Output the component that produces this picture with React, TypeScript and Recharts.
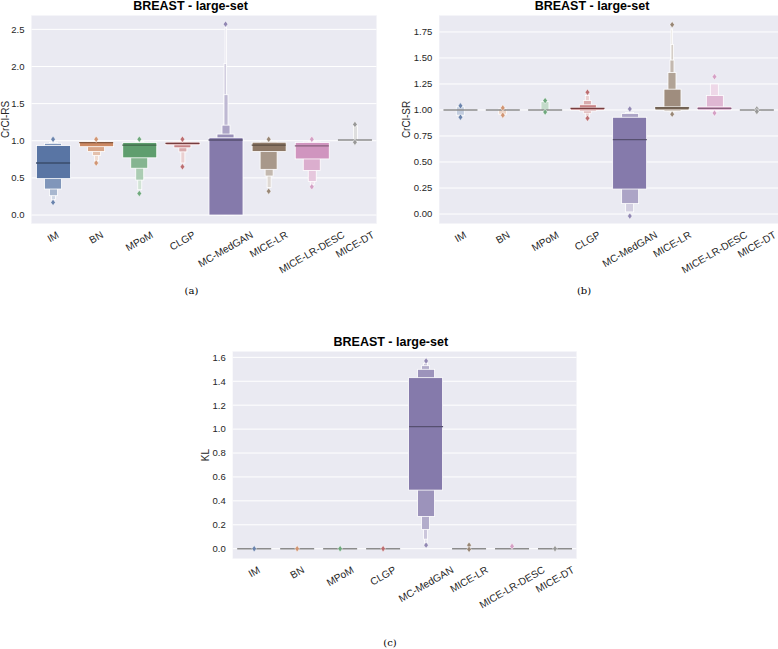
import React from "react";
import { ComposedChart, Bar, Scatter, XAxis, YAxis, CartesianGrid } from "recharts";

type Range = [number, number] | null;

const CATEGORIES = ["IM", "BN", "MPoM", "CLGP", "MC-MedGAN", "MICE-LR", "MICE-LR-DESC", "MICE-DT"];
const PALETTE = ["#5975a4", "#cc8963", "#5f9e6e", "#b55d60", "#857aab", "#8d7866", "#d095bf", "#8c8c8c"];

// ---- Panel (a): CrCl-RS ----
const rsBox: Range[] = [[0.49, 0.935], [0.92, 0.985], [0.77, 0.975], [0.945, 0.98], [0, 1.04], [0.855, 0.98], [0.755, 0.975], null];
const rsL1: Range[] = [[0.35, 0.965], [0.855, 0.99], [0.63, 0.98], [0.905, 0.985], [0, 1.09], [0.615, 0.99], [0.6, 0.985], null];
const rsL2: Range[] = [[0.26, 0.975], [0.8, 0.995], [0.47, 0.99], [0.85, 0.99], [0, 1.21], [0.525, 0.995], [0.45, 0.99], null];
const rsL3: Range[] = [[0.21, 0.985], [0.73, 1.0], [0.34, 0.995], [0.7, 0.995], [0, 1.62], [0.37, 1.0], [0.41, 0.995], [0.99, 1.2]];
const rsL4: Range[] = [null, null, null, null, [0, 2.04], null, null, null];
const rsL5: Range[] = [null, null, null, null, [0, 2.53], null, null, null];
const rsMedian = [0.7, 0.975, 0.94, 0.965, 1.01, 0.94, 0.93, 1.01];
const rsOutHi = [1.02, 1.02, 1.02, 1.02, 2.57, 1.02, 1.02, 1.22];
const rsOutLo: (number | null)[] = [0.17, 0.7, 0.29, 0.65, null, 0.32, 0.38, 0.98];
const rsTicks = [0, 0.5, 1.0, 1.5, 2.0, 2.5];

// ---- Panel (b): CrCl-SR ----
const srBox: Range[] = [null, null, null, [1.0, 1.02], [0.24, 0.93], [1.0, 1.03], [1.0, 1.03], null];
const srL1: Range[] = [null, null, null, [0.99, 1.05], [0.1, 0.965], [0.99, 1.2], [0.995, 1.14], null];
const srL2: Range[] = [[0.95, 1.03], [0.96, 1.01], [0.99, 1.08], [0.97, 1.09], [0.02, 0.975], [0.985, 1.36], [0.99, 1.25], [0.99, 1.005]];
const srL3: Range[] = [null, null, null, [0.94, 1.14], null, [0.98, 1.48], null, null];
const srL4: Range[] = [null, null, null, null, null, [0.975, 1.63], null, null];
const srL5: Range[] = [null, null, null, null, null, [0.97, 1.78], null, null];
const srMedian = [1.0, 1.0, 1.0, 1.015, 0.715, 1.02, 1.015, 1.0];
const srOutHi = [1.04, 1.02, 1.09, 1.17, 1.01, 1.82, 1.32, 1.01];
const srOutLo: (number | null)[] = [0.93, 0.95, 0.98, 0.92, -0.02, 0.96, 0.97, 0.985];
const srTicks = [0, 0.25, 0.5, 0.75, 1.0, 1.25, 1.5, 1.75];

// ---- Panel (c): KL ----
const klBox: Range[] = [null, null, null, null, [0.49, 1.43], null, null, null];
const klL1: Range[] = [null, null, null, null, [0.27, 1.5], null, null, null];
const klL2: Range[] = [null, null, null, null, [0.16, 1.53], null, null, null];
const klL3: Range[] = [null, null, null, null, [0.08, 1.55], null, null, null];
const klL4: Range[] = [null, null, null, null, [0.05, 1.56], null, null, null];
const klMedian = [0, 0, 0, 0, 1.02, 0, 0, 0];
const klOutHi = [0, 0, 0, 0, 1.57, 0.03, 0.02, 0];
const klOutLo: (number | null)[] = [null, null, null, null, 0.03, -0.005, null, null];
const klTicks = [0, 0.2, 0.4, 0.6, 0.8, 1.0, 1.2, 1.4, 1.6];

const LEVEL_WIDTHS = [34, 17, 8, 4, 2.5, 1.5];
const FONT = "'Liberation Sans', Arial, Helvetica, sans-serif";
const TEXT = "#262626";

function mix(hex: string, target: string, t: number): string {
  const p = (h: string) => [1, 3, 5].map((i) => parseInt(h.slice(i, i + 2), 16));
  const a = p(hex);
  const b = p(target);
  const c = a.map((v, i) => Math.round(v + (b[i] - v) * t));
  return "#" + c.map((v) => v.toString(16).padStart(2, "0")).join("");
}

const CHAR_W: Record<string, number> = {
  I: 0.278, M: 0.833, B: 0.667, N: 0.722, P: 0.667, o: 0.556, C: 0.722, L: 0.556, G: 0.778,
  "-": 0.333, e: 0.556, d: 0.556, A: 0.667, R: 0.722, E: 0.667, S: 0.667, D: 0.722, T: 0.611,
};
const TICK_FS = 9.5;
const XTICK_FS = 10.2;

const RotTick = (props: any) => {
  const { x, y, payload } = props;
  const s = String(payload.value);
  let L = 0;
  for (const ch of s) L += (CHAR_W[ch] ?? 0.6) * XTICK_FS;
  const h = XTICK_FS * 1.1;
  const cy = y + 5 + (L * 0.5 + h * 0.866) / 2;
  return (
    <text
      x={x}
      y={cy}
      transform={`rotate(-30, ${x}, ${cy})`}
      textAnchor="middle"
      dominantBaseline="central"
      fontSize={XTICK_FS}
      fill={TEXT}
      fontFamily={FONT}
    >
      {s}
    </text>
  );
};

interface PanelProps {
  levels: Range[][];
  medians: number[];
  outHi: (number | null)[];
  outLo: (number | null)[];
  domain: [number, number];
  ticks: number[];
  digits: number;
  left: number;
  top: number;
  width: number;
  yAxisWidth: number;
  marginRight: number;
  plotHeight: number;
}

function Panel(props: PanelProps) {
  const { levels, medians, outHi, outLo, domain, ticks, digits, left, top, width, yAxisWidth, marginRight, plotHeight } = props;
  const data = CATEGORIES.map((c, i) => {
    const row: any = { cat: c, med: medians[i], hi: outHi[i], lo: outLo[i] };
    levels.forEach((lv, k) => {
      row["l" + k] = lv[i];
    });
    return row;
  });
  const nLevels = CATEGORIES.map((_, i) => {
    let n = 0;
    levels.forEach((lv, k) => {
      if (lv[i]) n = k + 1;
    });
    return n;
  });
  const order = levels.map((_, k) => k).reverse();
  const marginTop = 15;
  const xAxisHeight = 56;
  const height = marginTop + plotHeight + xAxisHeight;

  const levelShape = (k: number) => (p: any) => {
    const i = CATEGORIES.indexOf(p.payload?.cat);
    const v = p.payload?.["l" + k];
    if (!v || i < 0 || !(p.height > 0)) return <g />;
    const fill = mix(PALETTE[i], "#ffffff", nLevels[i] ? (k / nLevels[i]) * 0.95 : 0);
    return <rect x={p.x} y={p.y} width={p.width} height={p.height} fill={fill} stroke="#ffffff" strokeWidth={0.8} />;
  };

  const medianShape = (p: any) => {
    const i = CATEGORIES.indexOf(p.payload?.cat);
    if (i < 0 || p.cy == null || isNaN(p.cy)) return <g />;
    const flat = !levels[0][i];
    const color = flat ? "#8c8c8c" : mix(PALETTE[i], "#000000", 0.35);
    return <line x1={p.cx - 17} x2={p.cx + 17} y1={p.cy} y2={p.cy} stroke={color} strokeWidth={flat ? 1.5 : 1.3} />;
  };

  const diamond = (key: "hi" | "lo") => (p: any) => {
    const i = CATEGORIES.indexOf(p.payload?.cat);
    const v = p.payload?.[key];
    if (v == null || i < 0) return <g />;
    const { cx, cy } = p;
    const c = mix(PALETTE[i], "#ffffff", 0.1);
    return <polygon points={`${cx},${cy - 3.2} ${cx + 2.3},${cy} ${cx},${cy + 3.2} ${cx - 2.3},${cy}`} fill={c} stroke="#ffffff" strokeWidth={0.5} />;
  };

  return (
    <div style={{ position: "absolute", left, top }}>
      <ComposedChart width={width} height={height} data={data} margin={{ top: marginTop, right: marginRight, bottom: 0, left: 0 }}>
        <CartesianGrid xAxisId="main" yAxisId="y" vertical={false} stroke="#ffffff" strokeWidth={1} fill="#eaeaf2" />
        <XAxis
          xAxisId="main"
          dataKey="cat"
          height={xAxisHeight}
          axisLine={false}
          tickLine={false}
          tickSize={0}
          tickMargin={0}
          interval={0}
          tick={<RotTick />}
        />
        {order.map((k) => (
          <XAxis key={"ax" + k} xAxisId={"x" + k} dataKey="cat" hide />
        ))}
        <YAxis
          yAxisId="y"
          type="number"
          domain={domain}
          ticks={ticks}
          allowDataOverflow
          width={yAxisWidth}
          axisLine={false}
          tickLine={false}
          tickSize={0}
          tickMargin={7}
          tickFormatter={(v: number) => v.toFixed(digits)}
          tick={{ fontSize: TICK_FS, fill: TEXT, fontFamily: FONT }}
        />
        {order.map((k) => (
          <Bar
            key={"lv" + k}
            xAxisId={"x" + k}
            yAxisId="y"
            dataKey={"l" + k}
            barSize={LEVEL_WIDTHS[k]}
            shape={levelShape(k)}
            isAnimationActive={false}
          />
        ))}
        <Scatter xAxisId="main" yAxisId="y" dataKey="med" shape={medianShape} isAnimationActive={false} />
        <Scatter xAxisId="main" yAxisId="y" dataKey="hi" shape={diamond("hi")} isAnimationActive={false} />
        <Scatter xAxisId="main" yAxisId="y" dataKey="lo" shape={diamond("lo")} isAnimationActive={false} />
      </ComposedChart>
    </div>
  );
}

export default function App() {
  const title = "BREAST - large-set";
  return (
    <div style={{ position: "absolute", left: 0, top: 0, width: 778, height: 649, background: "#ffffff", overflow: "hidden" }}>
      <Panel
        levels={[rsBox, rsL1, rsL2, rsL3, rsL4, rsL5]}
        medians={rsMedian}
        outHi={rsOutHi}
        outLo={rsOutLo}
        domain={[-0.121, 2.693]}
        ticks={rsTicks}
        digits={1}
        left={0}
        top={0}
        width={378}
        yAxisWidth={31.5}
        marginRight={1.5}
        plotHeight={209}
      />
      <Panel
        levels={[srBox, srL1, srL2, srL3, srL4, srL5]}
        medians={srMedian}
        outHi={srOutHi}
        outLo={srOutLo}
        domain={[-0.096, 1.913]}
        ticks={srTicks}
        digits={2}
        left={400}
        top={0}
        width={378}
        yAxisWidth={39.3}
        marginRight={0}
        plotHeight={209}
      />
      <Panel
        levels={[klBox, klL1, klL2, klL3, klL4]}
        medians={klMedian}
        outHi={klOutHi}
        outLo={klOutLo}
        domain={[-0.086, 1.653]}
        ticks={klTicks}
        digits={1}
        left={190}
        top={336}
        width={390}
        yAxisWidth={42.7}
        marginRight={3.5}
        plotHeight={208}
      />
      <svg width={778} height={649} style={{ position: "absolute", left: 0, top: 0, pointerEvents: "none" }}>
        <g fontFamily={FONT} fill="#000000">
          <text x={190.5} y={10} textAnchor="middle" fontSize={12.5} fontWeight="bold">{title}</text>
          <text x={592} y={10} textAnchor="middle" fontSize={12.5} fontWeight="bold">{title}</text>
          <text x={390.8} y={345.5} textAnchor="middle" fontSize={12.5} fontWeight="bold">{title}</text>
        </g>
        <g fontFamily={FONT} fill={TEXT} fontSize={10}>
          <text x={8.5} y={119.5} textAnchor="middle" transform="rotate(-90, 8.5, 119.5)">CrCl-RS</text>
          <text x={409.5} y={119.5} textAnchor="middle" transform="rotate(-90, 409.5, 119.5)">CrCl-SR</text>
          <text x={208.5} y={455} textAnchor="middle" transform="rotate(-90, 208.5, 455)">KL</text>
        </g>
        <g fontFamily="'DejaVu Serif', 'Liberation Serif', serif" fill="#000000" fontSize={10}>
          <text x={191.5} y={293.5} textAnchor="middle">(a)</text>
          <text x={584} y={293.5} textAnchor="middle">(b)</text>
          <text x={390} y={646} textAnchor="middle">(c)</text>
        </g>
      </svg>
    </div>
  );
}
